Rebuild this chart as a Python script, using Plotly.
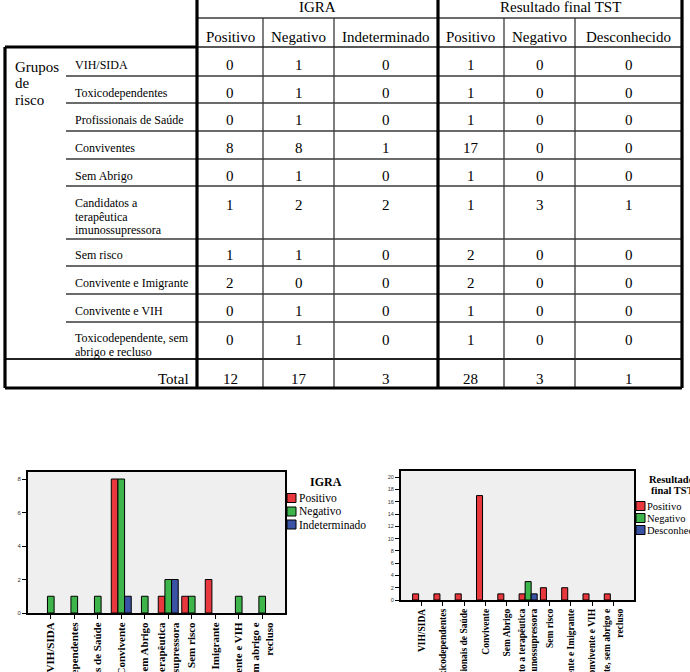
import plotly.graph_objects as go

W, H = 690, 672

# table rows and chart categories
groups_table = ["VIH/SIDA", "Toxicodependentes", "Profissionais de Saúde", "Conviventes",
                "Sem Abrigo", "Candidatos a<br>terapêutica<br>imunossupressora", "Sem risco",
                "Convivente e Imigrante", "Convivente e VIH",
                "Toxicodependente, sem<br>abrigo e recluso"]
groups_chart = ["VIH/SIDA", "Toxicodependentes", "Profissionais de Saúde", "Convivente",
                "Sem Abrigo", "Candidato a terapêutica<br>imunossupressora", "Sem risco",
                "Convivente e Imigrante", "Convivente e VIH",
                "Toxicodependente, sem abrigo e<br>recluso"]

igra_positivo = [0, 0, 0, 8, 0, 1, 1, 2, 0, 0]
igra_negativo = [1, 1, 1, 8, 1, 2, 1, 0, 1, 1]
igra_indeterminado = [0, 0, 0, 1, 0, 2, 0, 0, 0, 0]
tst_positivo = [1, 1, 1, 17, 1, 1, 2, 2, 1, 1]
tst_negativo = [0, 0, 0, 0, 0, 3, 0, 0, 0, 0]
tst_desconhecido = [0, 0, 0, 0, 0, 1, 0, 0, 0, 0]

igra_names = ["Positivo", "Negativo", "Indeterminado"]
tst_names = ["Positivo", "Negativo", "Desconhecido"]
colors = ["#E8383D", "#3DB54A", "#3A53A4"]

SERIF = "Liberation Serif, Times New Roman, serif"


def px(x):
    return x / W


def py(y):
    return 1 - y / H


shapes = []
annots = []


def line(x0, y0, x1, y1, w=1.3, c="#3a3a3a"):
    shapes.append(dict(type="line", xref="paper", yref="paper",
                       x0=px(x0), y0=py(y0), x1=px(x1), y1=py(y1),
                       line=dict(color=c, width=w)))


def text(x, y, s, size=15, xanchor="center", bold=False, step=None):
    # one annotation per line so the spacing can follow the picture
    parts = s.split("<br>")
    step = step or size * 1.1
    for k, p in enumerate(parts):
        annots.append(dict(xref="paper", yref="paper", x=px(x), y=py(y + k * step),
                           text=p, showarrow=False, xanchor=xanchor, yanchor="middle",
                           font=dict(family=SERIF, size=size, color="black",
                                     weight="bold" if bold else "normal")))


# ---- table ----
col_x = [197, 263, 334, 438, 504, 575, 682]
row_y = [47, 76, 103, 131, 159, 186, 239, 266, 294, 322, 359]
bottom = 388

for x in (263, 334, 504, 575):
    line(x, 18, x, bottom)
line(197, 18, 682, 18)
for y in row_y[1:]:
    line(66, y, 682, y)
line(197, 47, 682, 47, w=1.6, c="#222")
line(5, 359, 682, 359, w=2, c="#222")
line(5, 47, 197, 47, w=3.2, c="black")
line(5, bottom, 682, bottom, w=3.2, c="black")
line(5, 47, 5, bottom, w=3.2, c="black")
for x in (197, 438, 682):
    line(x, 0, x, bottom, w=3.2, c="black")

text((197 + 438) / 2, 7, "IGRA")
text((438 + 682) / 2, 7, "Resultado final TST")
for j, h in enumerate(igra_names + tst_names):
    text((col_x[j] + col_x[j + 1]) / 2, 37, h)

text(13, 67, "Grupos<br>de<br>risco", xanchor="left", step=16.5)

table_cols = [igra_positivo, igra_negativo, igra_indeterminado,
              tst_positivo, tst_negativo, tst_desconhecido]
for i, g in enumerate(groups_table):
    yc = (row_y[i] + row_y[i + 1]) / 2 + 3
    if "<br>" in g:
        n = g.count("<br>")
        top = row_y[i] + 17 if n == 2 else row_y[i] + 16
        text(73, top, g, size=12, xanchor="left", step=13.5)
        vy = top + 2
    else:
        text(73, yc, g, size=12, xanchor="left")
        vy = yc
    for j, col in enumerate(table_cols):
        text((col_x[j] + col_x[j + 1]) / 2, vy, str(col[i]))

text(191, 379, "Total", xanchor="right")
for j, col in enumerate(table_cols):
    text((col_x[j] + col_x[j + 1]) / 2, 379, str(sum(col)))

# ---- charts ----
fig = go.Figure()
for name, vals, c in zip(igra_names, [igra_positivo, igra_negativo, igra_indeterminado], colors):
    fig.add_trace(go.Bar(x=groups_chart, y=[v if v else None for v in vals], name=name,
                         xaxis="x", yaxis="y",
                         marker=dict(color=c, line=dict(color="black", width=1)),
                         showlegend=False))
for name, vals, c in zip(tst_names, [tst_positivo, tst_negativo, tst_desconhecido], colors):
    fig.add_trace(go.Bar(x=groups_chart, y=[v if v else None for v in vals], name=name,
                         xaxis="x2", yaxis="y2",
                         marker=dict(color=c, line=dict(color="black", width=1)),
                         showlegend=False))


def legend(x_sq, x_txt, ys, names, size):
    for yy, n, c in zip(ys, names, colors):
        shapes.append(dict(type="rect", xref="paper", yref="paper",
                           x0=px(x_sq), x1=px(x_sq + 9), y0=py(yy - 4.5), y1=py(yy + 4.5),
                           fillcolor=c, line=dict(color="black", width=1)))
        text(x_txt, yy, n, size=size, xanchor="left")


text(326, 482, "IGRA", size=12, bold=True)
legend(287, 297, [498, 511.5, 524.5], igra_names, 11.5)
text(647, 479, "Resultado", size=10.5, bold=True, xanchor="left")
text(649, 490, "final TST", size=10.5, bold=True, xanchor="left")
legend(636, 645, [506, 518, 530], tst_names, 10.5)

axis_common = dict(showline=True, linecolor="black", linewidth=2, mirror=True,
                   ticks="outside", ticklen=4, tickcolor="black", showgrid=False,
                   zeroline=False, automargin=False)

fig.update_layout(
    width=W, height=H, template="none", showlegend=False,
    margin=dict(l=0, r=0, t=0, b=0),
    paper_bgcolor="white", plot_bgcolor="#EFEFEF",
    barmode="group", bargap=0.15, bargroupgap=0,
    shapes=shapes, annotations=annots,
    xaxis=dict(domain=[px(28), px(285)], anchor="y", type="category",
               range=[-0.97, 9.97], dtick=1, tickangle=-90, ticklabelstandoff=-1,
               tickfont=dict(family=SERIF, size=11, color="black", weight="bold"),
               **axis_common),
    yaxis=dict(domain=[py(613), py(472)], anchor="x", range=[0, 8.42], dtick=2,
               tickfont=dict(family="Liberation Sans", size=6, color="#333"),
               **axis_common),
    xaxis2=dict(domain=[px(401), px(634)], anchor="y2", type="category",
                range=[-0.97, 9.97], dtick=1, tickangle=-90, ticklabelstandoff=-1,
                tickfont=dict(family=SERIF, size=9.5, color="black", weight="bold"),
                **axis_common),
    yaxis2=dict(domain=[py(600), py(471)], anchor="x2", range=[0, 21], dtick=2,
                tickfont=dict(family="Liberation Sans", size=5.5, color="#333"),
                **axis_common),
)

# the page body has a default 8px margin; drop it so the figure sits at the corner
fig.write_html("out.html", config={"displayModeBar": False},
               post_script="document.body.style.margin='0';")
